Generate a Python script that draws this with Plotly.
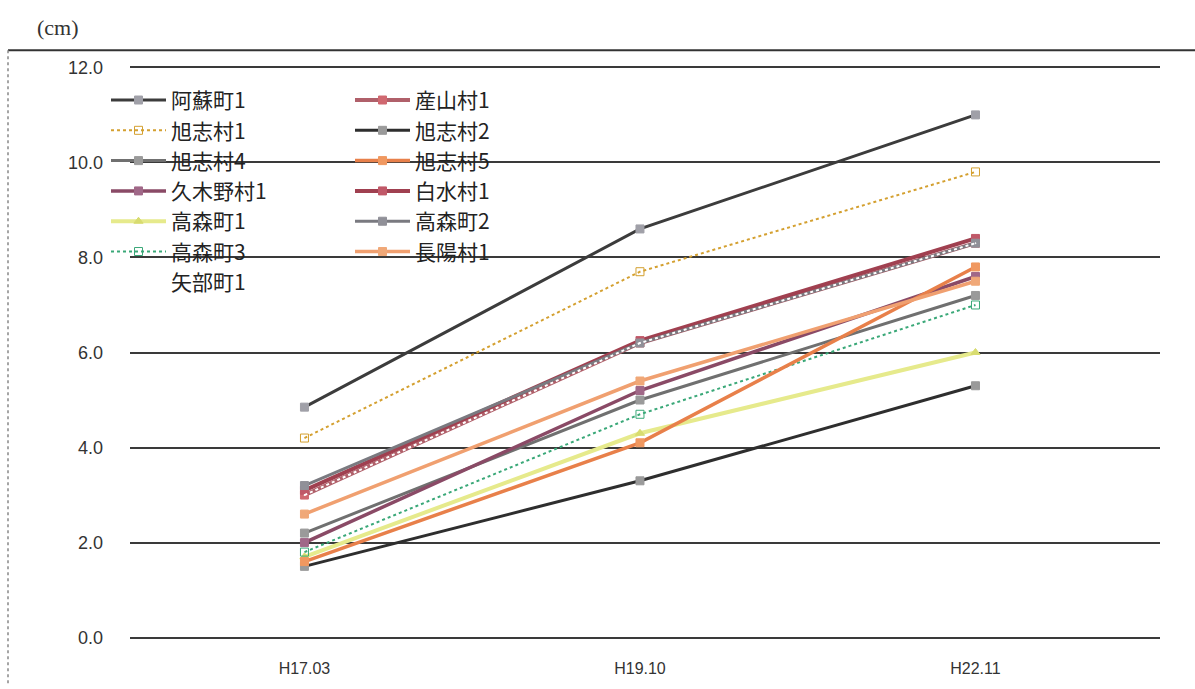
import plotly.graph_objects as go

categories = ["H17.03", "H19.10", "H22.11"]

aso1 = [4.85, 8.6, 11.0]
ubuyama1 = [3.0, 6.2, 8.3]
kyokushi1 = [4.2, 7.7, 9.8]
kyokushi2 = [1.5, 3.3, 5.3]
kyokushi4 = [2.2, 5.0, 7.2]
kyokushi5 = [1.6, 4.1, 7.8]
kugino1 = [2.0, 5.2, 7.6]
hakusui1 = [3.1, 6.25, 8.4]
takamori1 = [1.7, 4.3, 6.0]
takamori2 = [3.2, 6.2, 8.3]
takamori3 = [1.8, 4.7, 7.0]
choyo1 = [2.6, 5.4, 7.5]
yabe1 = [3.0, 6.2, 8.3]

y_ticks = [0, 2, 4, 6, 8, 10, 12]

# name, values, line colour, marker colour, dash, marker symbol, width, legend
series = [
    ("阿蘇町1", aso1, "#3c3c3c", "#a0a0a8", "solid", "square", 3, "legend"),
    ("旭志村1", kyokushi1, "#d4a030", "#d4a030", "dot", "square-open", 2, "legend"),
    ("旭志村4", kyokushi4, "#707070", "#9a9a9a", "solid", "square", 3, "legend"),
    ("久木野村1", kugino1, "#8a4a66", "#a06888", "solid", "square", 3.5, "legend"),
    ("高森町1", takamori1, "#e6ea8c", "#d8dc70", "solid", "triangle-up", 4, "legend"),
    ("高森町3", takamori3, "#3aa878", "#3aa878", "dot", "square-open", 2, "legend"),
    ("産山村1", ubuyama1, "#b0606a", "#d06870", "solid", "square", 4, "legend2"),
    ("旭志村2", kyokushi2, "#2e2e2e", "#9a9a9a", "solid", "square", 3, "legend2"),
    ("旭志村5", kyokushi5, "#e8804a", "#f09860", "solid", "square", 3.5, "legend2"),
    ("白水村1", hakusui1, "#a04050", "#c05868", "solid", "square", 4, "legend2"),
    ("高森町2", takamori2, "#7a7a80", "#909098", "solid", "square", 3, "legend2"),
    ("長陽村1", choyo1, "#f0a070", "#f0a878", "solid", "square", 3.5, "legend2"),
    ("矢部町1", yabe1, "#ffffff", "#ffffff", "dot", "circle", 2, "legend"),
]

order = ["阿蘇町1", "旭志村1", "旭志村4", "久木野村1", "高森町1", "高森町3", "矢部町1",
         "産山村1", "旭志村2", "旭志村5", "白水村1", "高森町2", "長陽村1"]

fig = go.Figure()
for name, vals, lc, mc, dash, sym, w, leg in series:
    fig.add_trace(go.Scatter(
        x=categories, y=vals, name=name, mode="lines+markers",
        line=dict(color=lc, width=w, dash=dash),
        marker=dict(color=mc, symbol=sym, size=8 if sym != "circle" else 1,
                    line=dict(color=mc, width=1)),
        legend=leg, legendrank=order.index(name) + 1,
    ))

W, H = 1195, 689
l, r, t, b = 130, 35, 65, 44
pw, ph = W - l - r, H - t - b


def px_x(p):
    return (p - l) / pw


def px_y(p):
    return (H - b - p) / ph


legend_font = dict(family="Noto Sans CJK JP", size=21, color="#222")

fig.update_layout(
    width=W, height=H,
    margin=dict(l=l, r=r, t=t, b=b),
    plot_bgcolor="white", paper_bgcolor="white",
    xaxis=dict(type="category", range=[-0.52, 2.55], showgrid=False, zeroline=False,
               showline=False, ticks="", ticklabelstandoff=17,
               tickfont=dict(family="Liberation Sans", size=16, color="#333")),
    yaxis=dict(range=[-0.05, 12.05], tickvals=y_ticks, tickformat=".1f",
               showgrid=True, gridcolor="#3a3a3a", gridwidth=1.6, zeroline=False,
               showline=False, ticks="", ticklabelstandoff=26,
               tickfont=dict(family="Liberation Sans", size=18, color="#333")),
    legend=dict(x=px_x(106), y=px_y(80), xanchor="left", yanchor="top",
                bgcolor="rgba(0,0,0,0)", font=legend_font, itemwidth=55,
                tracegroupgap=0, traceorder="normal"),
    legend2=dict(x=px_x(350), y=px_y(80), xanchor="left", yanchor="top",
                 bgcolor="rgba(0,0,0,0)", font=legend_font, itemwidth=55,
                 tracegroupgap=0, traceorder="normal"),
    showlegend=True,
    annotations=[dict(text="(cm)", xref="paper", yref="paper", x=px_x(58), y=px_y(27),
                      xanchor="center", yanchor="middle",
                      showarrow=False, font=dict(family="Liberation Serif", size=22, color="#333"))],
    shapes=[
        dict(type="line", xref="paper", yref="paper", x0=px_x(8), x1=px_x(1195),
             y0=px_y(50), y1=px_y(50), line=dict(color="#333", width=2)),
        dict(type="line", xref="paper", yref="paper", x0=px_x(8), x1=px_x(8),
             y0=px_y(50), y1=px_y(689), line=dict(color="#888", width=1.5, dash="dot")),
    ],
)

fig.write_html("out.html")
